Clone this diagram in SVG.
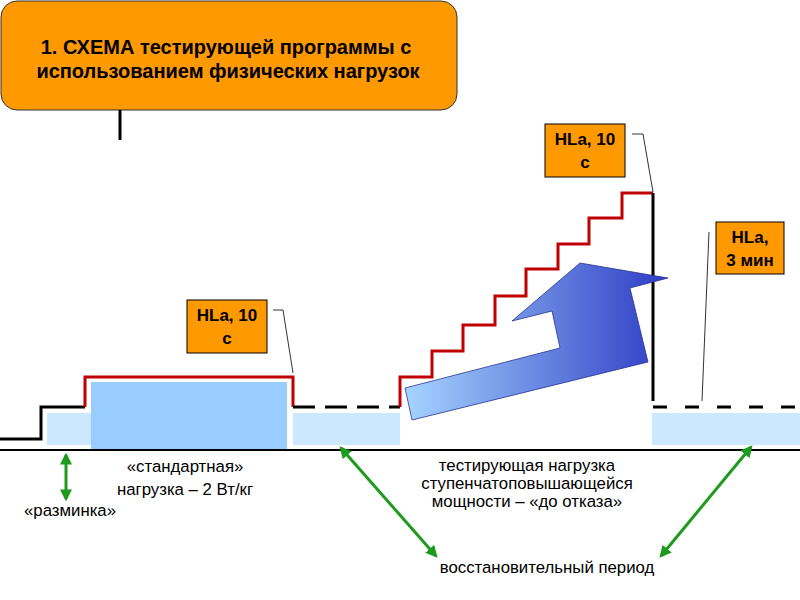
<svg xmlns="http://www.w3.org/2000/svg" width="800" height="600" viewBox="0 0 800 600">
<defs>
<linearGradient id="ag" x1="0" y1="0" x2="1" y2="0">
<stop offset="0" stop-color="#A6D4FF"/>
<stop offset="1" stop-color="#2E3CC4"/>
</linearGradient>
<marker id="gh" viewBox="0 0 10 10" refX="8" refY="5" markerWidth="4" markerHeight="4" orient="auto-start-reverse">
<path d="M0,0 L10,5 L0,10 z" fill="#1E9A1E"/>
</marker>
<style>
text{font-family:"Liberation Sans",Arial,sans-serif;fill:#000}
.t{font-size:20px;font-weight:bold}
.b{font-size:17px;font-weight:bold}
.n{font-size:16.8px}
.lbl{fill:#FF9900;stroke:#000;stroke-width:1}
.red{fill:none;stroke:#C00000;stroke-width:3}
.blk{fill:none;stroke:#000;stroke-width:3}
.lead{fill:none;stroke:#333;stroke-width:1}
.g{stroke:#1E9A1E;stroke-width:3;marker-start:url(#gh);marker-end:url(#gh)}
</style>
</defs>
<rect x="47" y="413" width="44" height="32" fill="#CCE8FF"/>
<rect x="91" y="382" width="196" height="68" fill="#99CCFF"/>
<rect x="293" y="413" width="107" height="32" fill="#CCE8FF"/>
<rect x="652" y="413" width="148" height="32" fill="#CCE8FF"/>
<line x1="0" y1="450" x2="800" y2="450" stroke="#000" stroke-width="2"/>
<g id="title">
<rect x="1" y="1" width="456" height="109" rx="16" fill="#FF9900" stroke="#333" stroke-width="1"/>
<text class="t" x="226" y="54" text-anchor="middle">1. СХЕМА тестирующей программы с</text>
<text class="t" x="228" y="78" text-anchor="middle">использованием физических нагрузок</text>
</g>
<line x1="120" y1="110" x2="120" y2="140" stroke="#000" stroke-width="3"/>
<g id="curve">
<polyline class="blk" points="0,439 41,439 41,407 85,407"/>
<polyline class="red" points="85,407 85,377 293,377 293,407"/>
<line x1="293" y1="407" x2="400" y2="407" stroke="#000" stroke-width="3" stroke-dasharray="22 10"/>
<polyline class="red" points="400,407 400,377 432,377 432,351 463,351 463,325 495,325 495,296 526,296 526,269 558,269 558,244 589,244 589,218 622,218 622,193 653,193"/>
<line x1="653" y1="193" x2="653" y2="401" stroke="#000" stroke-width="3"/>
<line x1="653" y1="407" x2="800" y2="407" stroke="#000" stroke-width="3" stroke-dasharray="14 18"/>
</g>
<g id="arrow">
<polygon points="405,388 560,348 552,311 512,321 580,263 668,278 630,288 648,362 412,420" fill="url(#ag)" stroke="#2A3590" stroke-width="0.8"/>
</g>
<g id="hla1">
<rect class="lbl" x="187" y="300" width="80" height="53"/>
<text class="b" x="227" y="321" text-anchor="middle">HLa, 10</text>
<text class="b" x="227" y="344" text-anchor="middle">с</text>
<polyline class="lead" points="273,310 283,310 293,373"/>
</g>
<g id="hla2">
<rect class="lbl" x="545" y="124" width="80" height="53"/>
<text class="b" x="585" y="145" text-anchor="middle">HLa, 10</text>
<text class="b" x="585" y="168" text-anchor="middle">с</text>
<polyline class="lead" points="632,134 643,134 653,192"/>
</g>
<g id="hla3">
<rect class="lbl" x="716" y="222" width="68" height="52"/>
<text class="b" x="750" y="243" text-anchor="middle">HLa,</text>
<text class="b" x="750" y="266" text-anchor="middle">3 мин</text>
<line class="lead" x1="709" y1="232" x2="702" y2="401"/>
</g>
<g id="connectors">
<line class="g" x1="66" y1="455" x2="66" y2="499"/>
<line class="g" x1="341" y1="448" x2="436" y2="556"/>
<line class="g" x1="751" y1="447" x2="661" y2="556"/>
</g>
<g id="labels">
<text class="n" x="70" y="516" text-anchor="middle">«разминка»</text>
<text class="n" x="185" y="472" text-anchor="middle">«стандартная»</text>
<text class="n" x="185" y="495" text-anchor="middle">нагрузка – 2 Вт/кг</text>
<text class="n" x="527" y="471" text-anchor="middle">тестирующая нагрузка</text>
<text class="n" x="527" y="489" text-anchor="middle">ступенчатоповышающейся</text>
<text class="n" x="527" y="507" text-anchor="middle">мощности – «до отказа»</text>
<text class="n" x="547" y="573" text-anchor="middle">восстановительный период</text>
</g>
</svg>
